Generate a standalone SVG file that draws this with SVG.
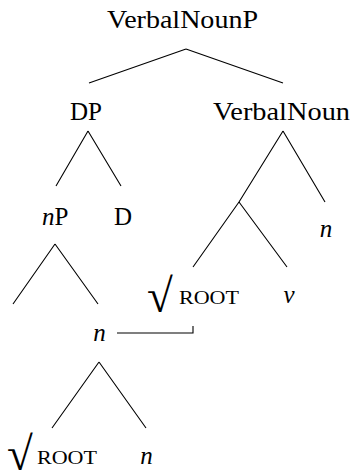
<svg xmlns="http://www.w3.org/2000/svg" width="353" height="472" viewBox="0 0 353 472">
<style>
.t{font-family:"Liberation Serif","Times New Roman",serif;font-size:25px;fill:#000}
.i{font-style:italic}
.sc{font-family:"Liberation Serif","Times New Roman",serif;font-size:18px;fill:#000}
.rad{font-family:"Liberation Serif","DejaVu Serif",serif;font-size:47px;fill:#000}
.e{stroke:#000;stroke-width:1.1;fill:none}
</style>
<rect width="353" height="472" fill="#fff"/>
<g id="connectors">
<path class="e" d="M186 49 L89 83 M186 49 L283 83"/>
<path class="e" d="M88 131 L56 186 M88 131 L121 186"/>
<path class="e" d="M55 244 L13 304 M55 244 L98 304"/>
<path class="e" d="M283 131 L239 202 M283 131 L325 202"/>
<path class="e" d="M239 202 L193 267 M239 202 L287 267"/>
<path class="e" d="M99 362 L52 428 M99 362 L146 428"/>
<path class="e" d="M117 333 L193 333 L193 326"/>
</g>
<g id="VerbalNounP"><text class="t" x="182.5" y="27.5" text-anchor="middle" textLength="151" lengthAdjust="spacingAndGlyphs">VerbalNounP</text></g>
<g id="DP"><text class="t" x="86" y="120" text-anchor="middle" textLength="32" lengthAdjust="spacingAndGlyphs">DP</text></g>
<g id="VerbalNoun"><text class="t" x="281.5" y="120" text-anchor="middle" textLength="137" lengthAdjust="spacingAndGlyphs">VerbalNoun</text></g>
<g id="nP"><text class="t" x="42" y="224.5"><tspan class="i">n</tspan>P</text></g>
<g id="D"><text class="t" x="123" y="224.5" text-anchor="middle">D</text></g>
<g id="n-right"><text class="t i" x="326" y="237" text-anchor="middle">n</text></g>
<g id="root-mid"><text class="rad" x="147" y="312">√</text><text class="sc" x="179" y="304" textLength="60" lengthAdjust="spacingAndGlyphs">ROOT</text></g>
<g id="v"><text class="t i" x="289" y="303" text-anchor="middle">v</text></g>
<g id="n-mid"><text class="t i" x="99.5" y="341" text-anchor="middle">n</text></g>
<g id="root-bottom"><text class="rad" x="7" y="470">√</text><text class="sc" x="37" y="464" textLength="60" lengthAdjust="spacingAndGlyphs">ROOT</text></g>
<g id="n-bottom"><text class="t i" x="146.5" y="464" text-anchor="middle">n</text></g>
</svg>
